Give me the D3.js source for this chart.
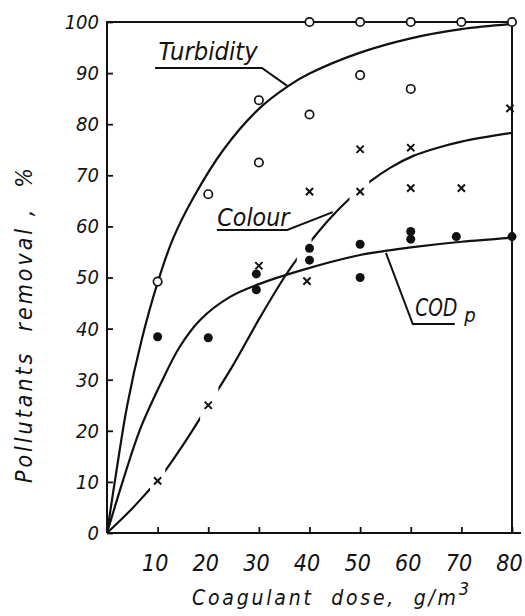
<!DOCTYPE html>
<html>
<head>
<meta charset="utf-8">
<script src="https://cdn.jsdelivr.net/npm/d3@7"></script>
<style>
  html, body { margin: 0; padding: 0; background: #fff; }
  svg text { font-family: "DejaVu Sans Condensed", "DejaVu Sans", sans-serif; font-style: oblique; fill: #111; }
</style>
</head>
<body>
<div id="app"></div>
<script>
// measured points
const turbidity_x = [10, 20, 30, 30, 40, 40, 50, 50, 60, 60, 70, 80]
const turbidity_y = [49.2, 66.3, 84.7, 72.5, 100, 81.9, 100, 89.6, 100, 86.9, 100, 100]

const colour_x = [10, 20, 30, 39.5, 40, 50, 50, 60, 60, 70, 79.6]
const colour_y = [10.2, 25, 52.3, 49.3, 66.8, 75.1, 66.8, 75.4, 67.5, 67.5, 83.1]

const cod_x = [10, 20, 29.5, 29.5, 40, 40, 50, 50, 60, 60, 69, 80]
const cod_y = [38.4, 38.2, 50.7, 47.6, 55.7, 53.4, 56.5, 50.0, 59, 57.5, 58, 58]

// fitted curves as drawn
const turbidity_fit_x = [0, 2, 4, 6.9, 10, 13, 17, 23, 30, 36, 40, 50, 60, 70, 80]
const turbidity_fit_y = [0, 13, 25, 38, 49, 57.5, 65.5, 75, 83, 87.6, 89.9, 94, 96.8, 98.6, 99.6]

const colour_fit_x = [0, 4.5, 8.5, 10, 15, 20, 25, 30, 35, 37.5, 40.4, 44, 47.9, 52, 56, 60.5, 65, 70, 80]
const colour_fit_y = [0, 4.3, 8.6, 10.2, 17.2, 25, 33, 41.8, 50, 53.6, 57.3, 61.5, 65.4, 68.8, 71.5, 73.8, 75.3, 76.6, 78.3]
const colour_gaps = [[8.5, 11.5], [18.4, 22], [37.5, 40.4], [47.9, 51.8]]

const cod_fit_x = [0, 3.2, 6.5, 10.5, 14.4, 18.4, 24.3, 30, 38, 50, 55, 60, 70, 80]
const cod_fit_y = [0, 10.4, 20.2, 29, 36.5, 41.7, 46.2, 48.7, 51.3, 54.4, 55.2, 55.9, 57, 57.8]

const x_ticks = [10, 20, 30, 40, 50, 60, 70, 80]
const y_ticks = [0, 10, 20, 30, 40, 50, 60, 70, 80, 90, 100]

const W = 525, H = 616

const svg = d3.create('svg')
    .attr('width', W)
    .attr('height', H)
    .attr('viewBox', [0, 0, W, H])

const x = d3.scaleLinear().domain([0, 80]).range([107, 512])
const y = d3.scaleLinear().domain([0, 100]).range([533, 22])

const zip = (a, b) => a.map((v, i) => [v, b[i]])

// axes
const gy = svg.append('g')
    .attr('transform', `translate(${x(0)},0)`)
    .call(d3.axisLeft(y).tickValues(y_ticks).tickSize(-6).tickSizeOuter(0).tickPadding(8))
gy.select('.domain').remove()
gy.selectAll('line').attr('stroke', '#111').attr('stroke-width', 1.8)
gy.selectAll('text').attr('font-size', 20).attr('fill', '#111').style('font-family', null)

const gx = svg.append('g')
    .attr('transform', `translate(0,${y(0)})`)
    .call(d3.axisBottom(x).tickValues(x_ticks).tickSize(-6).tickSizeOuter(0).tickPadding(22))
gx.select('.domain').remove()
gx.selectAll('line').attr('stroke', '#111').attr('stroke-width', 1.8)
gx.selectAll('text').attr('font-size', 23).attr('dx', -3).attr('fill', '#111').style('font-family', null)

// frame
const frame = svg.append('g').attr('stroke', '#111').attr('stroke-width', 2).attr('fill', 'none')
frame.append('line').attr('x1', x(0)).attr('x2', x(0)).attr('y1', y(100) - 1).attr('y2', y(0))
frame.append('line').attr('x1', x(0)).attr('x2', x(80) + 9).attr('y1', y(0)).attr('y2', y(0))
frame.append('line').attr('x1', x(0)).attr('x2', x(80)).attr('y1', y(100)).attr('y2', y(100))
frame.append('line').attr('x1', x(80)).attr('x2', x(80)).attr('y1', y(100)).attr('y2', y(0))

// curves
const line = d3.line().x(d => x(d[0])).y(d => y(d[1])).curve(d3.curveCatmullRom.alpha(0.5))

const clip = svg.append('clipPath').attr('id', 'colour-clip')
const edges = [0].concat(colour_gaps.flat(), [80])
for (let i = 0; i < edges.length; i += 2) {
    clip.append('rect')
        .attr('x', x(edges[i]) - (i === 0 ? 5 : 0))
        .attr('width', x(edges[i + 1]) - x(edges[i]) + (i === 0 || i === edges.length - 2 ? 5 : 0))
        .attr('y', 0).attr('height', H)
}

svg.append('path')
    .attr('d', line(zip(turbidity_fit_x, turbidity_fit_y)))
    .attr('fill', 'none').attr('stroke', '#111').attr('stroke-width', 2.2)
svg.append('path')
    .attr('d', line(zip(colour_fit_x, colour_fit_y)))
    .attr('clip-path', 'url(#colour-clip)')
    .attr('fill', 'none').attr('stroke', '#111').attr('stroke-width', 2.2)
svg.append('path')
    .attr('d', line(zip(cod_fit_x, cod_fit_y)))
    .attr('fill', 'none').attr('stroke', '#111').attr('stroke-width', 2.2)

// labels with leaders (underline + leader to curve)
const labels = [
    { text: 'Turbidity', tx: 10.2, ty: 92.6, len: 99, line: [[9.5, 91], [30.6, 91], [35.6, 87.5]] },
    { text: 'Colour', tx: 21.8, ty: 60.1, len: 72, line: [[21.7, 59.3], [35.6, 59.3], [44.6, 62.8]] },
    { text: 'COD', tx: 60.9, ty: 42.5, len: 42, sub: 'p', line: [[68.7, 40.9], [60.4, 40.9], [55.1, 54.8]] }
]
const plain = d3.line().x(d => x(d[0])).y(d => y(d[1]))
labels.forEach(l => {
    svg.append('path')
        .attr('d', plain(l.line))
        .attr('fill', 'none').attr('stroke', '#111').attr('stroke-width', 2)
    svg.append('text')
        .attr('x', x(l.tx)).attr('y', y(l.ty))
        .attr('font-size', 24)
        .attr('textLength', l.len).attr('lengthAdjust', 'spacingAndGlyphs')
        .text(l.text)
    if (l.sub) {
        svg.append('text')
            .attr('x', x(l.tx) + l.len + 7).attr('y', y(l.ty) + 6)
            .attr('font-size', 20)
            .text(l.sub)
    }
})

// markers
svg.append('g').selectAll('circle')
    .data(zip(turbidity_x, turbidity_y))
    .join('circle')
    .attr('cx', d => x(d[0])).attr('cy', d => y(d[1]))
    .attr('r', 4.2)
    .attr('fill', '#fff').attr('stroke', '#111').attr('stroke-width', 1.7)

svg.append('g').selectAll('path')
    .data(zip(colour_x, colour_y))
    .join('path')
    .attr('transform', d => `translate(${x(d[0])},${y(d[1])})`)
    .attr('d', 'M-3.6,-3.6L3.6,3.6M-3.6,3.6L3.6,-3.6')
    .attr('stroke', '#111').attr('stroke-width', 2)

svg.append('g').selectAll('circle')
    .data(zip(cod_x, cod_y))
    .join('circle')
    .attr('cx', d => x(d[0])).attr('cy', d => y(d[1]))
    .attr('r', 4.5)
    .attr('fill', '#111')

// axis titles
svg.append('text')
    .attr('transform', `translate(32,${(168 + 483) / 2}) rotate(-90)`)
    .attr('text-anchor', 'middle')
    .attr('font-size', 23)
    .attr('textLength', 315).attr('lengthAdjust', 'spacing')
    .style('white-space', 'pre')
    .text('Pollutants  removal ,  %')

const xt = svg.append('text')
    .attr('x', 192).attr('y', 605)
    .attr('font-size', 21)
    .style('white-space', 'pre')
xt.append('tspan').attr('textLength', 264).attr('lengthAdjust', 'spacing').text('Coagulant  dose,  g/m')
xt.append('tspan').attr('dy', -10).attr('font-size', 18).text('3')

d3.select('#app').append(() => svg.node())
</script>
</body>
</html>
